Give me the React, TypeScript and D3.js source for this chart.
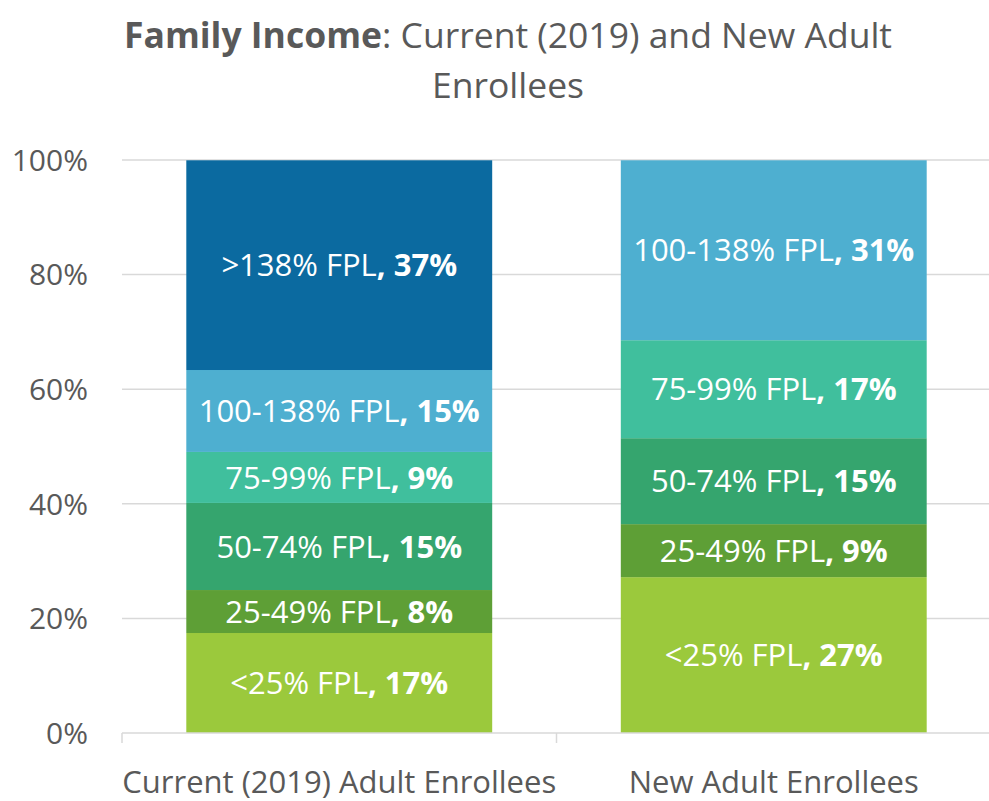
import React from "react";
import * as d3 from "d3";

const categories = ["Current (2019) Adult Enrollees", "New Adult Enrollees"];
const groups = ["<25% FPL", "25-49% FPL", "50-74% FPL", "75-99% FPL", "100-138% FPL", ">138% FPL"];
const currentValues = [17.45, 7.5, 15.2, 8.9, 14.3, 36.6];
const newValues = [27.2, 9.25, 15.0, 17.1, 31.4, 0];
const currentLabels = ["17%", "8%", "15%", "9%", "15%", "37%"];
const newLabels = ["27%", "9%", "15%", "17%", "31%", ""];
const groupColors = ["#9bc93c", "#5e9f36", "#35a56e", "#40bf9d", "#4eafd0", "#0b6aa0"];
const yTicks = [0, 20, 40, 60, 80, 100];

const W = 989;
const H = 801;
const FONT = "'Open Sans', 'Noto Sans', sans-serif";

export default function App() {
  const x = d3.scaleBand<string>().domain(categories).range([122, 991]).paddingInner(0.296).paddingOuter(0.148);
  const y = d3.scaleLinear().domain([0, 100]).range([733, 160]);

  const rows = categories.map((c, i) => {
    const r: any = { cat: c };
    groups.forEach((g, j) => {
      r[g] = i === 0 ? currentValues[j] : newValues[j];
    });
    return r;
  });
  const labels = [currentLabels, newLabels];
  const series = d3.stack<any>().keys(groups)(rows);

  return (
    <svg width={W} height={H} style={{ position: "absolute", left: 0, top: 0, background: "#fff" }} fontFamily={FONT}>
      {/* title */}
      <text x={508} y={48} textAnchor="middle" fontSize={35.5} fill="#595959">
        <tspan fontWeight="bold">Family Income</tspan>
        <tspan>: Current (2019) and New Adult</tspan>
      </text>
      <text x={508} y={98} textAnchor="middle" fontSize={35.5} fill="#595959">Enrollees</text>

      {/* gridlines */}
      {yTicks.filter((t) => t > 0).map((t) => (
        <line key={t} x1={122} x2={991} y1={y(t)} y2={y(t)} stroke="#d9d9d9" strokeWidth={1.5} />
      ))}
      {/* y tick labels */}
      {yTicks.map((t) => (
        <text key={t} x={88} y={y(t)} dy="0.36em" textAnchor="end" fontSize={30} fill="#595959">
          {t}%
        </text>
      ))}

      {/* bars */}
      {series.map((s, j) => (
        <g key={groups[j]}>
          {s.map((d, i) => {
            const h = y(d[0]) - y(d[1]);
            if (h <= 0) return null;
            return (
              <rect key={i} x={x(categories[i])} y={y(d[1])} width={x.bandwidth()} height={h} fill={groupColors[j]} />
            );
          })}
        </g>
      ))}
      {/* labels */}
      {series.map((s, j) => (
        <g key={"l" + groups[j]}>
          {s.map((d, i) => {
            const lab = labels[i][j];
            if (!lab) return null;
            const cx = (x(categories[i]) as number) + x.bandwidth() / 2;
            const cy = (y(d[0]) + y(d[1])) / 2;
            return (
              <text key={i} x={cx} y={cy} dy="0.36em" textAnchor="middle" fontSize={31} fill="#ffffff">
                <tspan>{groups[j]}</tspan>
                <tspan fontWeight="bold">, {lab}</tspan>
              </text>
            );
          })}
        </g>
      ))}

      {/* x axis */}
      <line x1={122} x2={991} y1={y(0)} y2={y(0)} stroke="#d9d9d9" strokeWidth={1.5} />
      {[122, 556.5, 991].map((t) => (
        <line key={t} x1={t} x2={t} y1={y(0)} y2={y(0) + 10} stroke="#d9d9d9" strokeWidth={1.5} />
      ))}
      {categories.map((c) => (
        <text key={c} x={(x(c) as number) + x.bandwidth() / 2} y={793} textAnchor="middle" fontSize={31} fill="#595959">
          {c}
        </text>
      ))}
    </svg>
  );
}
